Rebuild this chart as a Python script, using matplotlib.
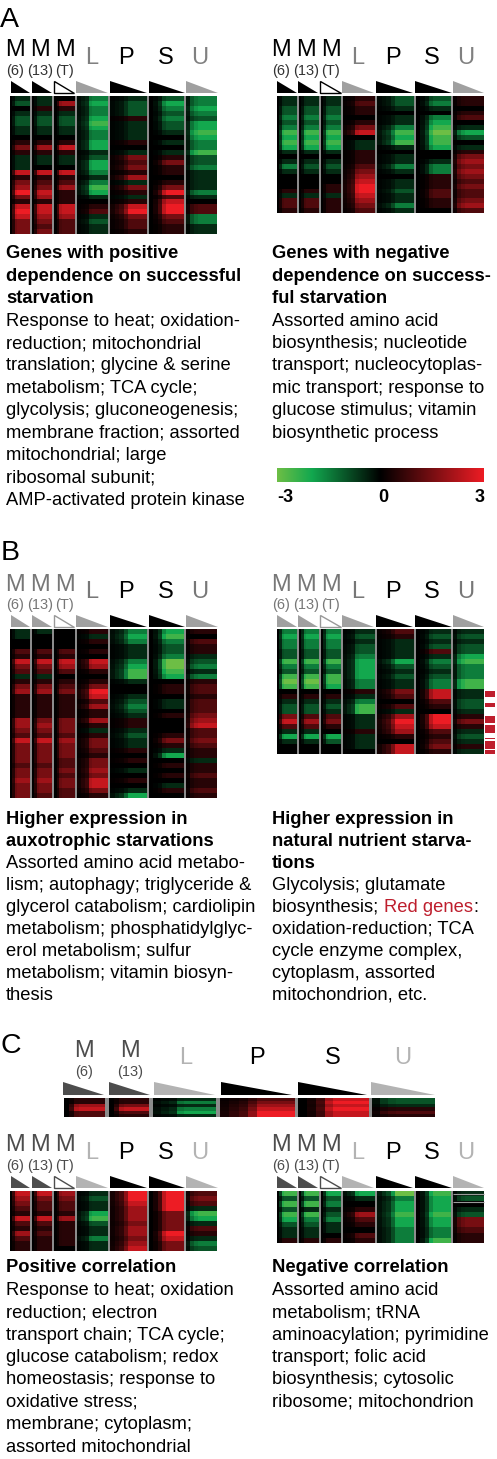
import matplotlib
matplotlib.use("Agg")
import matplotlib.pyplot as plt
from matplotlib.colors import LinearSegmentedColormap
from matplotlib.patches import Polygon, Rectangle
import numpy as np

plt.rcParams['font.family'] = ['Liberation Sans', 'DejaVu Sans']

# expression levels, in half units (6 = +3, -6 = -3)
# one list per group, order M6, M13, MT, L, P, S, U
A_LEFT = [
    [-1, -2, 0, -1, -2, -2, -1, -1, 0, 1, 3, 1, -1, -1, -1, 5, 1, 3, 4, 6, 3, 1, 5, 6, 5, 3, 3, 3],
    [-1, -1, 1, -1, -2, -2, -1, -1, 0, 1, 4, 1, -1, -1, 0, 5, 1, 2, 3, 5, 4, 1, 5, 5, 4, 3, 2, 3],
    [0, 4, 1, -1, -2, -2, -1, -1, 0, 1, 5, 1, -1, -1, 0, 5, 1, 2, 4, 1, 1, 1, 5, 5, 4, 2, 2, 2],
    [-3, -4, -3, -3, -4, -5, -4, -3, -3, -4, -4, -1, -2, -4, -4, -3, -1, -3, -5, -4, -1, 0, 1, 2, -1, -2, -1, -1],
    [-1, -2, -2, -2, 1, -1, -1, -1, -1, 1, 0, -1, 3, 2, 3, 1, 4, -1, 3, 1, -1, 1, 5, 6, 3, 2, 2, 1],
    [-2, -4, -3, -2, -3, -2, -2, -1, 0, -1, 0, -1, 1, 3, 1, 1, 0, 1, 3, 6, 2, 5, 6, 6, 3, 2, 1, 1],
    [-3, -3, -4, -3, -2, -4, -4, -5, -4, -3, -3, -5, -2, -2, -3, -1, -1, -1, -1, -3, -1, 0, 2, 2, -3, -3, -1, -1],
]
A_RIGHT = [
    [-1, -1, -2, -2, -3, -2, -3, -5, -4, -5, -4, -1, 0, -1, -3, -1, 0, 0, 0, 1, -1, 2, 2, 1],
    [-1, -1, -2, -2, -3, -2, -3, -5, -4, -5, -4, -1, 0, -1, -2, -1, 0, 0, 0, 1, -1, 2, 2, 1],
    [-1, -1, -2, -2, -3, -2, -3, -5, -4, -5, -4, -1, 0, -1, -2, -1, 0, 0, 1, 1, -1, 1, 1, 1],
    [1, 2, 1, 1, 0, 1, 3, 5, 0, -1, -1, 1, 1, 1, 2, 3, 4, 5, 6, 6, 5, 4, 3, 2],
    [-2, -2, -1, 0, -1, -1, -3, -5, -4, -5, -1, 0, -1, -1, -3, -1, 0, -1, -1, -2, -1, -1, -3, -1],
    [-2, -3, -1, 0, -3, -4, -5, -6, -5, -5, -4, 0, 0, -1, -3, -3, 1, 1, 1, 2, 2, 1, 1, 0],
    [1, 1, 0, 1, 2, 0, -1, -4, -2, 0, -1, 1, 3, 4, 3, 4, 3, 2, 3, 2, 2, 3, 4, 2],
]
B_LEFT = [
    [-1, -1, 0, 0, 2, 1, 5, 3, 2, -1, 1, 3, 4, 1, 1, 1, 1, 1, 4, 4, 3, 2, 5, 3, 3, 3, 3, 2, 3, 3, 4, 3, 3, 3],
    [-1, 0, 0, 0, 2, 1, 5, 3, 2, -1, 1, 3, 4, 1, 1, 1, 1, 1, 3, 4, 3, 2, 5, 3, 3, 3, 3, 2, 3, 3, 4, 3, 3, 2],
    [0, 0, 0, 0, 2, 1, 5, 4, 2, 0, 1, 2, 3, 1, 1, 1, 1, 1, 3, 3, 3, 2, 4, 3, 3, 3, 2, 2, 3, 2, 3, 3, 2, 2],
    [1, -1, 1, 0, 1, 0, 5, 4, 1, 0, 1, 3, 6, 5, 2, 4, 1, 1, 4, 1, -1, 1, 3, 3, 2, 1, 3, 3, 4, 3, 5, 5, 3, 1],
    [-3, -4, -3, -1, -1, -1, -3, -4, -5, -5, -1, 0, 0, -1, -2, -3, -2, -1, 1, 1, -1, -2, -1, -1, 1, 0, 1, 0, -1, 0, 1, 0, -1, -4],
    [-4, -5, -3, -2, -2, -3, -6, -6, -5, -4, 0, 1, 1, 0, -1, -1, 0, 1, 0, 0, 0, 1, 3, 1, -1, -4, 0, 1, 0, 1, 0, -1, 1, 0],
    [1, 0, 2, 1, 1, -1, -2, -3, -1, -3, 1, 2, 2, 1, 2, 2, 2, 3, 4, 5, 2, 2, 3, 2, 1, 1, -1, 1, 1, 2, 1, 1, 2, 1],
]
B_RIGHT = [
    [-3, -4, -3, -3, -2, -2, -5, -3, -2, -5, -6, -5, 0, 1, -1, -2, -2, 3, 5, 2, -1, -4, -1, 0, 0],
    [-3, -4, -3, -3, -2, -2, -5, -3, -2, -5, -6, -5, 0, 1, -1, -2, -2, 2, 4, 2, -1, -4, -1, 0, 0],
    [-3, -4, -3, -3, -2, -2, -5, -3, -2, -5, -5, -4, 0, 1, -1, -2, -1, 2, 3, 1, 0, -4, -2, 0, 0],
    [-1, -2, -1, -2, -2, -3, -4, -4, -4, -4, -3, -3, 1, -1, -3, -5, -5, -1, -1, -1, 1, -1, -1, -1, 0],
    [2, 1, -1, -1, -1, -1, -4, -2, -1, -2, -1, -1, 3, 2, 0, 2, -1, 4, 6, 5, 4, 1, 0, 5, 5],
    [-1, -2, -1, -2, 2, -1, -3, -2, -1, -2, -3, -3, 5, 5, 2, 1, 0, 6, 6, 5, 2, 1, 2, 3, 1],
    [-1, -2, -1, -2, -2, -4, -5, -3, -3, -3, -5, -5, -1, -1, -2, -2, -1, 1, 3, 1, -1, -2, -1, 1, -1],
]
# order M6, M13, L, P, S, U
C_TOP = [
    [1, 1, 4, 5, 2, 2],
    [1, 1, 3, 5, 2, 1],
    [-1, -3, -1, -3, -4, -1],
    [2, 3, 4, 5, 6, 6],
    [5, 6, 5, 6, 5, 5],
    [-2, -2, -1, 1, 2, 1],
]
C_LEFT = [
    [5, 4, 3, 2, 1, 5, 2, 1, 4, 2, 1, 1],
    [5, 3, 2, 2, 1, 5, 2, 1, 2, 1, 1, 1],
    [4, 3, 2, 2, 1, 4, 1, 1, 1, 1, 1, 0],
    [-1, -2, -1, -1, -4, -5, -2, -1, -1, -3, -1, -1],
    [6, 6, 5, 4, 4, 4, 3, 4, 4, 3, 4, 5],
    [6, 6, 6, 6, 3, 3, 3, 3, 6, 5, 3, 3],
    [2, 3, 2, -1, -5, -4, -1, 2, 1, -1, -3, -2],
]
C_RIGHT = [
    [-5, -2, -5, -2, -5, -4, -2, -1, -1, 1],
    [-5, -2, -5, -1, -5, -3, -2, -1, -1, 1],
    [-4, -2, -3, -1, -2, -3, -1, -1, 0, 1],
    [-4, -1, 0, 1, 4, 2, 1, 0, 2, 1],
    [-6, -3, -4, -4, -5, -4, -4, -3, -3, -3],
    [-5, -4, -4, -4, -5, -4, -4, -3, -3, -5],
    [-1, -2, 0, -1, -2, 3, 3, 2, 1, 1],
]

# how much of the signal shows across each group, low dose to high dose
FADE = {
    'M': [0.0, 0.3, 0.9, 1, 1, 1, 1, 1],
    'L': [0.1, 0.2, 0.3, 0.9, 1, 1, 1, 1],
    'P': [0.1, 0.2, 0.3, 0.6, 1, 1, 1, 1],
    'S': [0.0, 0.1, 0.3, 0.8, 1, 1, 1, 1],
    'U': [0.2, 0.7, 0.9, 1, 1, 1, 1, 1],
}

SUBS = ['(6)', '(13)', '(T)']
RED_GENE_SPANS = [(691, 697), (703, 707), (716, 723), (725, 733), (738, 739), (741, 749), (750, 754)]

TITLE_A_L = ['Genes with positive', 'dependence on successful', 'starvation']
BODY_A_L = ['Response to heat; oxidation-', 'reduction; mitochondrial', 'translation; glycine & serine',
            'metabolism; TCA cycle;', 'glycolysis; gluconeogenesis;', 'membrane fraction; assorted',
            'mitochondrial; large', 'ribosomal subunit;', 'AMP-activated protein kinase']
TITLE_A_R = ['Genes with negative', 'dependence on success-', 'ful starvation']
BODY_A_R = ['Assorted amino acid', 'biosynthesis; nucleotide', 'transport; nucleocytoplas-',
            'mic transport; response to', 'glucose stimulus; vitamin', 'biosynthetic process']
TITLE_B_L = ['Higher expression in', 'auxotrophic starvations']
BODY_B_L = ['Assorted amino acid metabo-', 'lism; autophagy; triglyceride &', 'glycerol catabolism; cardiolipin',
            'metabolism; phosphatidylglyc-', 'erol metabolism; sulfur', 'metabolism; vitamin biosyn-', 'thesis']
TITLE_B_R = ['Higher expression in', 'natural nutrient starva-', 'tions']
BODY_B_R = ['Glycolysis; glutamate', 'biosynthesis; ', 'oxidation-reduction; TCA',
            'cycle enzyme complex,', 'cytoplasm, assorted', 'mitochondrion, etc.']
TITLE_C_L = ['Positive correlation']
BODY_C_L = ['Response to heat; oxidation', 'reduction; electron', 'transport chain; TCA cycle;',
            'glucose catabolism; redox', 'homeostasis; response to', 'oxidative stress;',
            'membrane; cytoplasm;', 'assorted mitochondrial']
TITLE_C_R = ['Negative correlation']
BODY_C_R = ['Assorted amino acid', 'metabolism; tRNA', 'aminoacylation; pyrimidine',
            'transport; folic acid', 'biosynthesis; cytosolic', 'ribosome; mitochondrion']

# layout in picture pixels
LEFT_CELLS = [(10, 30), (32, 52), (54, 75), (77, 108), (110, 147), (149, 184), (186, 217)]
RIGHT_CELLS = [(277, 297), (299, 319), (321, 341), (343, 375), (377, 414), (416, 451), (453, 484)]
LEFT_TRI = [(11, 30), (32, 52), (54, 74), (76, 108), (110, 147), (149, 185), (186, 218)]
RIGHT_TRI = [(277, 297), (298, 318), (320, 341), (342, 374), (376, 413), (415, 452), (453, 484)]
LEFT_TEXT_X = [15, 40, 65, 92, 126, 166, 200]
RIGHT_TEXT_X = [281, 306, 331, 358, 393, 432, 466]
TEXT_SIZE = 13.25

cmap = LinearSegmentedColormap.from_list('gbr', [(0, '#6dbe45'), (1 / 6, '#12a84f'), (0.5, '#000000'), (1, '#ed1c24')])

fig = plt.figure(figsize=(4.97, 14.59), dpi=100)
ax = fig.add_axes([0, 0, 1, 1])


def heatmap(cells, y0, y1, groups, kinds):
    ax.add_patch(Rectangle((cells[0][0], y0), cells[-1][1] - cells[0][0], y1 - y0, color='#8c8c8c', lw=0, zorder=1))
    for (x0, x1), vals, kind in zip(cells, groups, kinds):
        grid = np.outer(np.array(vals) / 2, FADE[kind])
        ax.imshow(grid, cmap=cmap, vmin=-3, vmax=3, aspect='auto', extent=(x0, x1, y1, y0),
                  interpolation='nearest', zorder=2)


def header(tris, xs, tri_y, label_y, sub_y, other_y, kinds, m_col, sub_col, tri_m, side_col, tri_side, hollow=None):
    for i, ((x0, x1), x, kind) in enumerate(zip(tris, xs, kinds)):
        is_m = kind == 'M'
        if kind in 'PS':
            col, tcol = 'black', 'black'
        elif is_m:
            col, tcol = m_col, tri_m
        else:
            col, tcol = side_col, tri_side
        ax.text(x, label_y if is_m else other_y, kind, fontsize=17, color=col, ha='center', va='baseline')
        if is_m:
            ax.text(x, sub_y, SUBS[i], fontsize=10.5, color=sub_col, ha='center', va='center')
        pts = [(x0, tri_y), (x0, tri_y + 12), (x1, tri_y + 12)]
        if is_m and i == 2 and hollow:
            ax.add_patch(Polygon(pts, closed=True, fc='white', ec=hollow, lw=1))
        else:
            ax.add_patch(Polygon(pts, closed=True, fc=tcol, lw=0))


def paragraph(x, y, step, title, body):
    for i, line in enumerate(title + body):
        ax.text(x, y + i * step, line, fontsize=TEXT_SIZE, va='center', ha='left', color='black',
                fontweight='bold' if i < len(title) else 'normal')


KINDS = ['M', 'M', 'M', 'L', 'P', 'S', 'U']

ax.set_xlim(0, 497)
ax.set_ylim(1459, 0)
ax.axis('off')

# panel letters
ax.text(0, 27, 'A', fontsize=20.5, va='baseline')
ax.text(1, 560, 'B', fontsize=20.5, va='baseline')
ax.text(0, 1053, 'C', fontsize=20.5, va='baseline')

# panel A
header(LEFT_TRI, LEFT_TEXT_X, 81, 56, 71, 64, KINDS, 'black', '#333333', 'black', '#808080', '#a0a0a0', 'black')
header(RIGHT_TRI, RIGHT_TEXT_X, 81, 56, 71, 64, KINDS, 'black', '#333333', 'black', '#808080', '#a0a0a0', 'black')
heatmap(LEFT_CELLS, 96, 234, A_LEFT, KINDS)
heatmap(RIGHT_CELLS, 96, 213, A_RIGHT, KINDS)
paragraph(6, 254, 22.4, TITLE_A_L, BODY_A_L)
paragraph(272, 254, 22.4, TITLE_A_R, BODY_A_R)

# colour scale
ax.imshow(np.linspace(-3, 3, 256)[None, :], cmap=cmap, vmin=-3, vmax=3, aspect='auto', extent=(277, 484, 482, 468), zorder=2)
ax.text(285, 498, '-3', fontsize=13, fontweight='bold', ha='center', va='center')
ax.text(383, 498, '0', fontsize=13, fontweight='bold', ha='center', va='center')
ax.text(480, 498, '3', fontsize=13, fontweight='bold', ha='center', va='center')

# panel B
header(LEFT_TRI, LEFT_TEXT_X, 615, 591, 605, 598, KINDS, '#777777', '#777777', '#a0a0a0', '#777777', '#a0a0a0', '#999999')
header(RIGHT_TRI, RIGHT_TEXT_X, 615, 591, 605, 598, KINDS, '#777777', '#777777', '#a0a0a0', '#777777', '#a0a0a0', '#999999')
heatmap(LEFT_CELLS, 629, 798, B_LEFT, KINDS)
heatmap(RIGHT_CELLS, 629, 754, B_RIGHT, KINDS)
for y0, y1 in RED_GENE_SPANS:
    ax.add_patch(Rectangle((485, y0), 10, y1 - y0, color='#be1e2d', lw=0))
paragraph(6, 820, 21.9, TITLE_B_L, BODY_B_L)
paragraph(272, 820, 21.9, TITLE_B_R, BODY_B_R)


def text_end(s, y):
    # where a line of body text would stop, to put the red words behind it
    renderer = fig.canvas.get_renderer()
    probe = ax.text(272, y, s, fontsize=TEXT_SIZE, va='center', alpha=0)
    end = ax.transData.inverted().transform(probe.get_window_extent(renderer))[1][0]
    probe.remove()
    return end


red_y = 820 + 4 * 21.9
ax.text(text_end('biosynthesis;.', red_y) + 1, red_y, 'Red genes', fontsize=TEXT_SIZE, va='center', color='#be1e2d')
ax.text(text_end('biosynthesis;.Red genes', red_y) + 1, red_y, ':', fontsize=TEXT_SIZE, va='center')

# panel C, wide heatmap on top
TOP_CELLS = [(64, 105), (109, 149), (153, 216), (220, 295), (298, 369), (372, 435)]
TOP_TRI = [(63, 104), (109, 150), (154, 215), (221, 292), (298, 367), (371, 435)]
TOP_X = [84, 130, 186, 257, 333, 403]
TOP_KINDS = ['M', 'M', 'L', 'P', 'S', 'U']
for i, (x, kind) in enumerate(zip(TOP_X, TOP_KINDS)):
    col = {'M': '#4d4d4d', 'L': '#b3b3b3', 'U': '#b3b3b3'}.get(kind, 'black')
    ax.text(x, 1057 if kind == 'M' else 1064, kind, fontsize=17, color=col, ha='center', va='baseline')
    if kind == 'M':
        ax.text(x, 1072, SUBS[i], fontsize=10.5, color='#4d4d4d', ha='center', va='center')
    x0, x1 = TOP_TRI[i]
    ax.add_patch(Polygon([(x0, 1082), (x0, 1095), (x1, 1095)], closed=True, fc=col, lw=0))
heatmap(TOP_CELLS, 1098, 1117, C_TOP, TOP_KINDS)

header(LEFT_TRI, LEFT_TEXT_X, 1176, 1151, 1166, 1159, KINDS, '#4d4d4d', '#4d4d4d', '#4d4d4d', '#b3b3b3', '#b3b3b3', '#4d4d4d')
header(RIGHT_TRI, RIGHT_TEXT_X, 1176, 1151, 1166, 1159, KINDS, '#4d4d4d', '#4d4d4d', '#4d4d4d', '#b3b3b3', '#b3b3b3', '#4d4d4d')
heatmap(LEFT_CELLS, 1191, 1251, C_LEFT, KINDS)
heatmap(RIGHT_CELLS, 1191, 1243, C_RIGHT, KINDS)
ax.hlines([1194, 1202], 453, 484, color='#9a9a9a', lw=0.8, zorder=3)
paragraph(6, 1268, 22.4, TITLE_C_L, BODY_C_L)
paragraph(272, 1268, 22.4, TITLE_C_R, BODY_C_R)

ax.set_xlim(0, 497)
ax.set_ylim(1459, 0)
fig.savefig('out.png', dpi=100)
plt.close()
